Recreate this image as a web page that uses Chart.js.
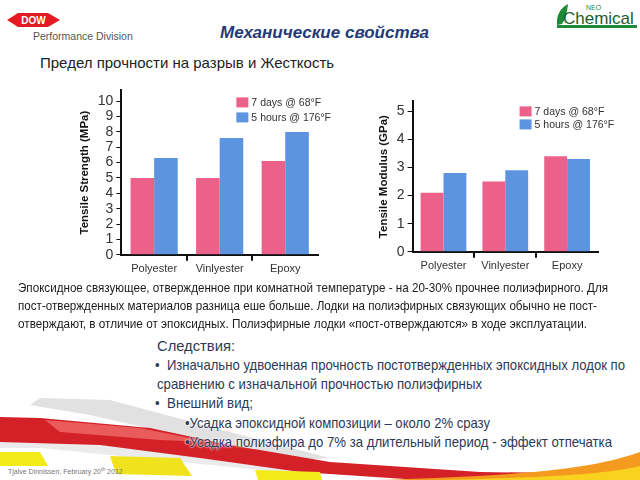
<!DOCTYPE html>
<html>
<head>
<meta charset="utf-8">
<script src="https://cdn.jsdelivr.net/npm/chart.js@4.4.1/dist/chart.umd.min.js"></script>
<style>
  html, body { margin: 0; padding: 0; background: #fff; }
  #slide { position: relative; width: 640px; height: 480px; overflow: hidden; font-family: "Liberation Sans", Arial, sans-serif; }
  .abs { position: absolute; white-space: nowrap; transform-origin: left center; }
  #deco { position: absolute; left: 0; top: 0; }
  #title { left: 220px; top: 23px; font-size: 17px; font-weight: bold; font-style: italic; color: #1f3b78; }
  #subtitle { left: 40px; top: 54px; font-size: 15px; color: #222; }
  #division { left: 33px; top: 30px; font-size: 10.5px; color: #555; }
  .para { left: 18px; font-size: 13.5px; color: #1a1a1a; }
  .note { font-size: 14.5px; color: #2c3a58; text-shadow: 0 0 2px #fff, 0 0 2px #fff; }
  #footer { left: 8px; top: 466px; font-size: 7px; color: #777; }
  .box { position: absolute; }
</style>
</head>
<body>
<div id="slide">
  <svg id="deco" width="640" height="480">
    <!-- DOW logo -->
    <polygon points="7,20 18,13 48,13 60,20 48,27 18,27" fill="#e31b23"/>
    <text x="33.5" y="24" font-family="Liberation Sans, Arial" font-size="10" font-weight="bold" fill="#fff" text-anchor="middle">DOW</text>
    <!-- NEO Chemical logo -->
    <path d="M557,25 C556,16 560,8 568,4 C567,12 566,18 562,24 Z" fill="#1f8a3a"/>
    <text x="586" y="10" font-family="Liberation Sans, Arial" font-size="7" fill="#1f8a3a">NEO</text>
    <text x="563" y="24" font-family="Liberation Sans, Arial" font-size="17" fill="#1e5e2e">Chemical</text>
    <rect x="557" y="25" width="80" height="3" fill="#1f8a3a"/>
    <!-- bottom swooshes -->
    <polygon points="40,398 110,400 260,440 330,458 300,460 200,440 90,415 30,405" fill="#d9d9d9" opacity="0.8"/>
    <polygon points="0,430 60,428 200,452 330,470 300,474 160,460 40,448 0,448" fill="#e6e6e6" opacity="0.8"/>
    <polygon points="0,417 40,418 150,428 230,445 330,462 480,472 640,474 640,480 420,480 300,472 200,458 100,445 0,442" fill="#d42027"/>
    <polygon points="45,420 140,428 210,442 160,440 60,432" fill="#ef6a6a" opacity="0.8"/>
    <polygon points="0,452 40,452 48,466 0,466" fill="#f3ea1a"/>
    <polygon points="110,456 180,458 192,476 116,474" fill="#f0e21c"/>
    <polygon points="255,470 320,472 322,480 258,480" fill="#f3ea1a"/>
    <path d="M380,480 C480,476 580,474 640,452 L640,480 Z" fill="#f39a1f"/>
    <path d="M430,480 C520,478 600,476 640,466 L640,480 Z" fill="#f8d21e"/>
  </svg>

  <div class="abs" id="division">Performance Division</div>
  <div class="abs" id="title">Механические свойства</div>
  <div class="abs" id="subtitle">Предел прочности на разрыв и Жесткость</div>

  <div class="box" style="left:78px; top:79px; width:267px; height:203px;"><canvas id="strengthChart"></canvas></div>
  <div class="box" style="left:377px; top:90px; width:245px; height:189px;"><canvas id="modulusChart"></canvas></div>

  <div class="abs para" data-w="590" style="top:280px;">Эпоксидное связующее, отвержденное при комнатной температуре - на 20-30% прочнее полиэфирного. Для</div>
  <div class="abs para" data-w="579" style="top:298px;">пост-отвержденных материалов разница еше больше. Лодки на полиэфирных связующих обычно не пост-</div>
  <div class="abs para" data-w="569" style="top:316px;">отверждают, в отличие от эпоксидных. Полиэфирные лодки «пост-отверждаются» в ходе эксплуатации.</div>

  <div class="abs note" data-w="78" style="left:157px; top:337px; font-size:15px;">Следствия:</div>
  <div class="abs note" data-w="470" style="left:155px; top:357px;">•&nbsp; Изначально удвоенная прочность постотвержденных эпоксидных лодок по</div>
  <div class="abs note" data-w="325" style="left:157px; top:376px;">сравнению с изначальной прочностью полиэфирных</div>
  <div class="abs note" data-w="98" style="left:155px; top:395px;">•&nbsp; Внешний вид;</div>
  <div class="abs note" data-w="305" style="left:185px; top:415px;">•Усадка эпоксидной композиции – около 2% сразу</div>
  <div class="abs note" data-w="427" style="left:185px; top:434px;">•Усадка полиэфира до 7% за длительный период - эффект отпечатка</div>

  <div class="abs" id="footer">Tjalve Dinnissen, February 20<sup style="font-size:5px">th</sup> 2012</div>
</div>

<script>
const resins = ['Polyester', 'Vinlyester', 'Epoxy'];
const seriesLabels = ['7 days @ 68°F', '5 hours @ 176°F'];
const strengthRoom = [5.0, 5.0, 6.1];
const strengthPost = [6.3, 7.6, 8.0];
const modulusRoom = [2.1, 2.5, 3.4];
const modulusPost = [2.8, 2.9, 3.3];
const strengthTicks = [0, 1, 2, 3, 4, 5, 6, 7, 8, 9, 10];
const modulusTicks = [0, 1, 2, 3, 4, 5];

const pink = '#ec6189';
const blue = '#5d94e0';

Chart.defaults.font.family = '"Liberation Sans", Arial, sans-serif';

// squeeze the slide text lines to the widths they have on the slide
document.querySelectorAll('[data-w]').forEach(el => {
    const w = el.getBoundingClientRect().width;
    el.style.transform = 'scaleX(' + (el.dataset.w / w) + ')';
});

// small legend drawn in the top right corner of the plot
const cornerLegend = {
    id: 'cornerLegend',
    afterDraw(chart, args, opts) {
        const { ctx, chartArea } = chart;
        ctx.save();
        ctx.font = '10.5px "Liberation Sans", Arial, sans-serif';
        ctx.textBaseline = 'middle';
        chart.data.datasets.forEach((ds, i) => {
            const x = chartArea.left + opts.x;
            const y = chartArea.top + opts.y + i * opts.gap;
            ctx.fillStyle = ds.backgroundColor;
            ctx.fillRect(x, y, 12, 10);
            ctx.fillStyle = '#333';
            ctx.fillText(ds.label, x + 15, y + 5.5);
        });
        ctx.restore();
    }
};

const createResinChart = (id, room, post, ticks, max, title, legendPos, pct, padRight) => {
    const ctx = document.getElementById(id).getContext('2d');
    new Chart(ctx, {
        type: 'bar',
        data: {
            labels: resins,
            datasets: [
                { label: seriesLabels[0], data: room, backgroundColor: pink },
                { label: seriesLabels[1], data: post, backgroundColor: blue }
            ]
        },
        options: {
            responsive: true,
            maintainAspectRatio: false,
            animation: false,
            datasets: { bar: { barPercentage: 1, categoryPercentage: pct } },
            layout: { padding: { top: 4, right: padRight, bottom: 4, left: 0 } },
            plugins: {
                legend: { display: false },
                tooltip: { enabled: false },
                cornerLegend: legendPos
            },
            scales: {
                x: {
                    border: { color: '#111', width: 2 },
                    grid: {
                        offset: true,
                        drawOnChartArea: false,
                        tickLength: 6,
                        lineWidth: 2,
                        color: c => (c.index === 0 || c.index === undefined) ? 'rgba(0,0,0,0)' : '#111'
                    },
                    ticks: { font: { size: 11 }, color: '#333', padding: 2 }
                },
                y: {
                    min: 0,
                    max: max,
                    afterBuildTicks: s => { s.ticks = ticks.map(v => ({ value: v })); },
                    border: { color: '#111', width: 2 },
                    grid: { drawOnChartArea: false, tickLength: 5, color: '#111' },
                    ticks: { font: { size: 14 }, color: '#333', padding: 3, autoSkip: false },
                    title: {
                        display: true,
                        text: title,
                        color: '#111',
                        font: { size: 11.5, weight: 'bold' },
                        padding: { top: 0, bottom: 3 }
                    }
                }
            }
        },
        plugins: [cornerLegend]
    });
};

createResinChart('strengthChart', strengthRoom, strengthPost, strengthTicks, 10.7,
    'Tensile Strength (MPa)', { x: 115, y: 7, gap: 15 }, 0.72, 27);
createResinChart('modulusChart', modulusRoom, modulusPost, modulusTicks, 5.35,
    'Tensile Modulus (GPa)', { x: 107, y: 5, gap: 13 }, 0.74, 24);
</script>
</body>
</html>
